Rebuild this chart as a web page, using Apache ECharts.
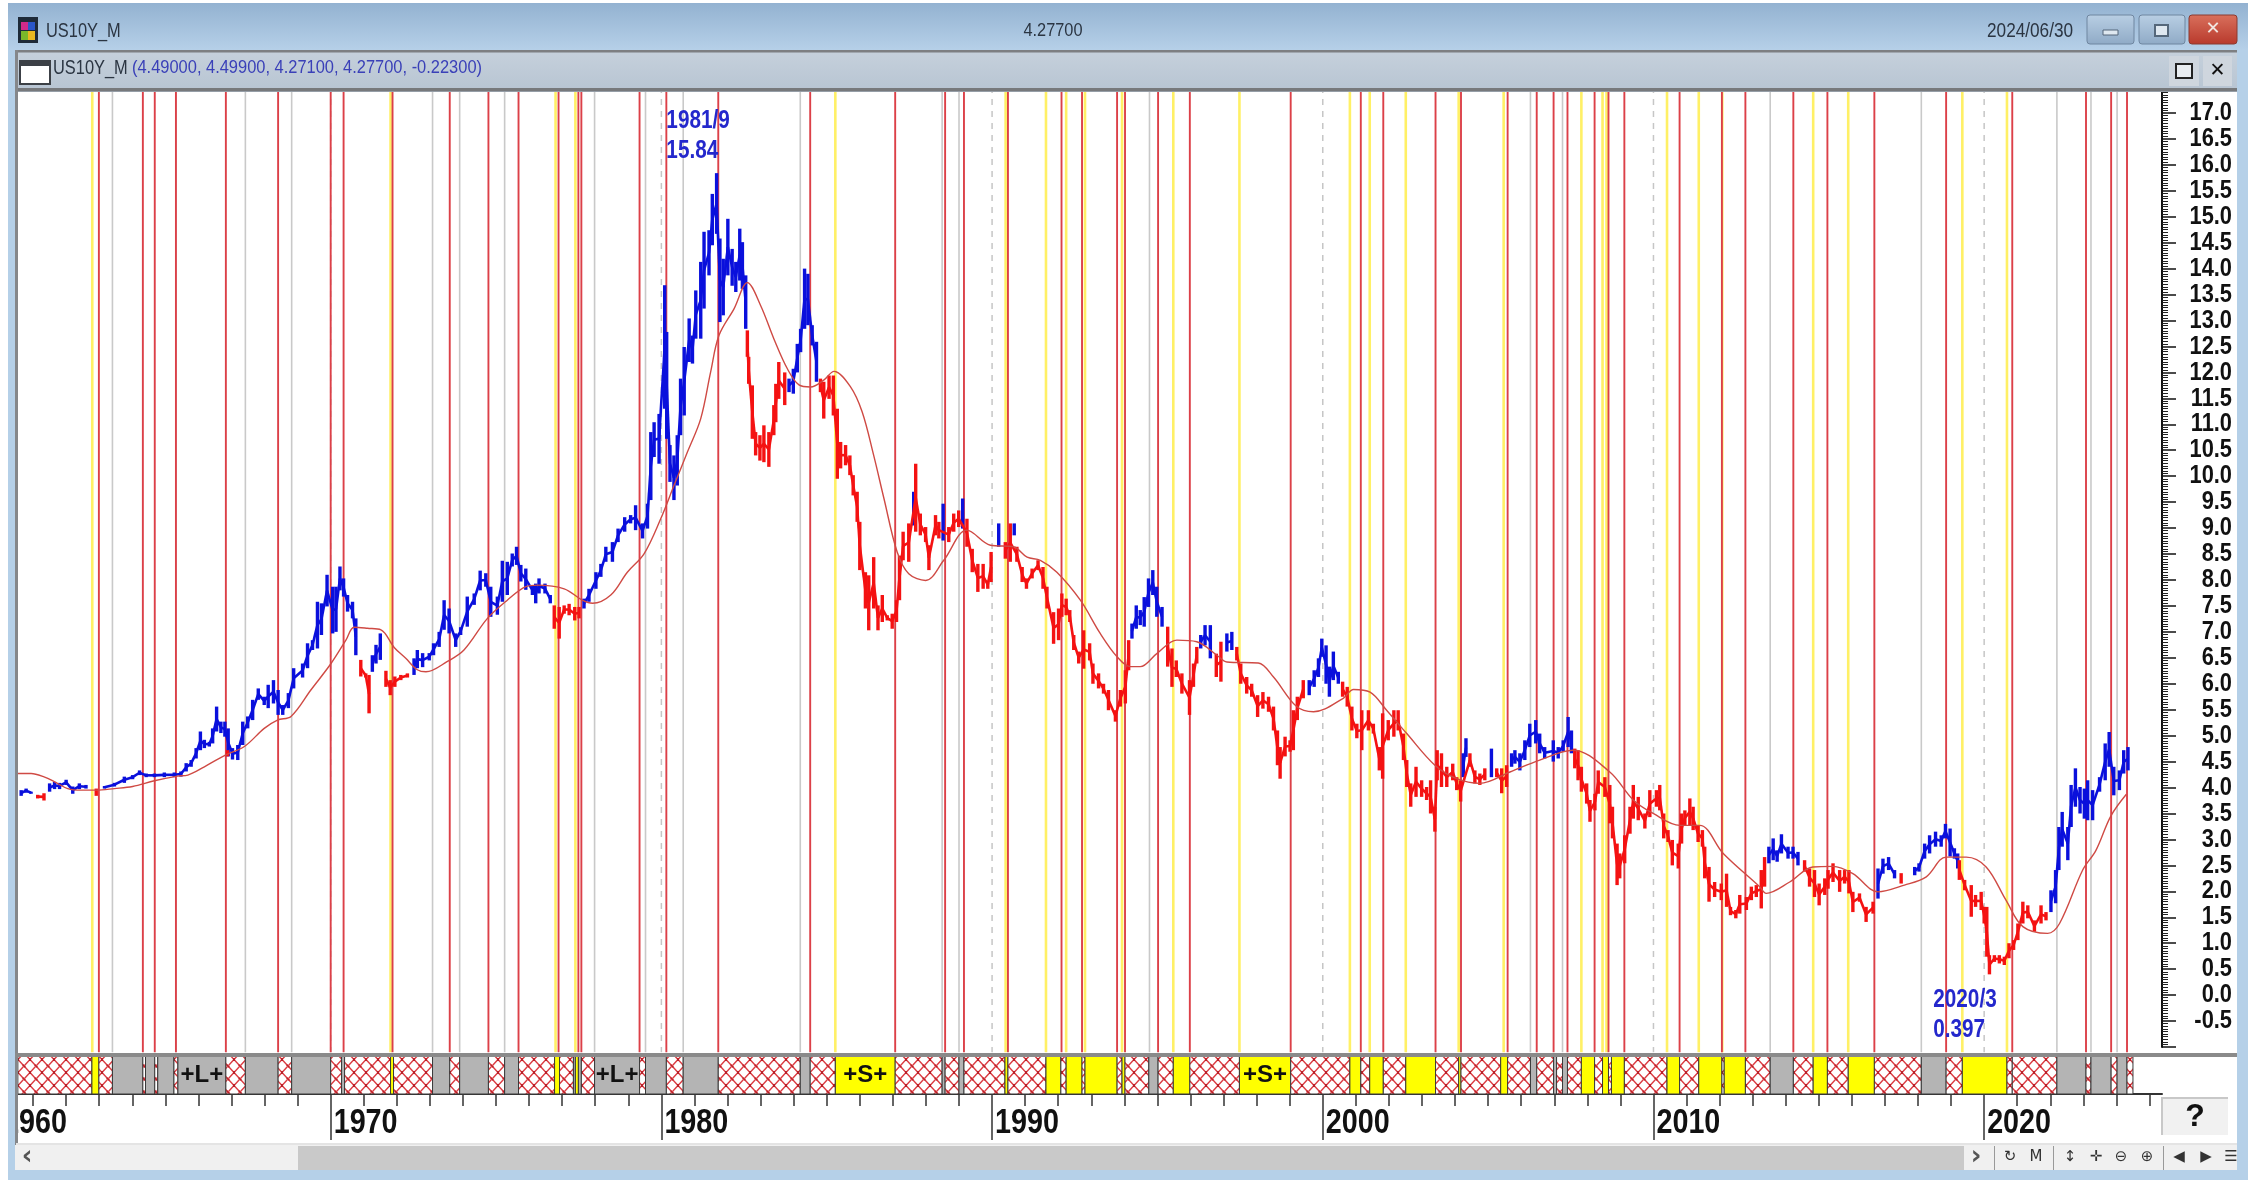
<!DOCTYPE html>
<html><head><meta charset="utf-8"><title>US10Y_M</title>
<style>html,body{margin:0;padding:0;background:#fff}#c{width:2255px;height:1180px}</style>
<script src="https://cdn.jsdelivr.net/npm/echarts@6/dist/echarts.min.js"></script></head>
<body><div id="c"></div>
<script>
// Yearly tick marks and labels
const yearTicks=[1961,1962,1963,1964,1965,1966,1967,1968,1969,1970,1971,1972,1973,1974,1975,1976,1977,1978,1979,1980,1981,1982,1983,1984,1985,1986,1987,1988,1989,1990,1991,1992,1993,1994,1995,1996,1997,1998,1999,2000,2001,2002,2003,2004,2005,2006,2007,2008,2009,2010,2011,2012,2013,2014,2015,2016,2017,2018,2019,2020,2021,2022,2023,2024,2025];
const decades=[1960,1970,1980,1990,2000,2010,2020];
const yLabels=[-0.5,0,0.5,1,1.5,2,2.5,3,3.5,4,4.5,5,5.5,6,6.5,7,7.5,8,8.5,9,9.5,10,10.5,11,11.5,12,12.5,13,13.5,14,14.5,15,15.5,16,16.5,17];
// Bars rising: [year, low, high]
const blueBars=[[1960.64,3.84,3.95],[1960.79,3.90,3.98],[1960.94,3.88,3.92],[1961.5,3.92,4.08],[1961.65,3.97,4.11],[1961.8,3.97,4.09],[1962.0,4.05,4.15],[1962.2,3.88,4.02],[1962.4,3.97,4.08],[1962.6,3.98,4.05],[1963.16,3.98,4.03],[1963.46,4.02,4.09],[1963.76,4.09,4.21],[1964.01,4.16,4.24],[1964.22,4.24,4.33],[1964.42,4.2,4.27],[1964.67,4.2,4.27],[1964.97,4.2,4.29],[1965.27,4.2,4.29],[1965.47,4.21,4.31],[1965.63,4.31,4.47],[1965.78,4.4,4.53],[1965.93,4.56,4.76],[1966.06,4.72,5.08],[1966.18,4.76,4.92],[1966.33,4.79,4.88],[1966.43,4.85,5.14],[1966.55,5.08,5.56],[1966.68,5.05,5.27],[1966.8,4.98,5.27],[1966.9,4.6,5.14],[1967.03,4.54,4.76],[1967.19,4.53,4.82],[1967.34,4.82,5.27],[1967.49,5.14,5.37],[1967.64,5.3,5.69],[1967.81,5.69,5.91],[1967.99,5.59,5.75],[1968.11,5.53,5.98],[1968.27,5.62,6.07],[1968.41,5.4,5.88],[1968.55,5.4,5.59],[1968.72,5.53,5.82],[1968.88,5.91,6.3],[1969.15,6.12,6.39],[1969.3,6.3,6.78],[1969.45,6.65,6.84],[1969.6,6.68,7.58],[1969.72,6.94,7.55],[1969.89,7.49,8.1],[1970.06,6.97,7.87],[1970.16,7.0,7.87],[1970.28,7.8,8.26],[1970.39,7.68,8.03],[1970.51,7.39,7.71],[1970.66,7.26,7.58],[1970.76,6.55,7.26],[1971.26,6.23,6.55],[1971.37,6.39,6.75],[1971.5,6.46,6.97],[1972.52,6.17,6.49],[1972.62,6.3,6.65],[1972.78,6.32,6.59],[1972.98,6.45,6.59],[1973.11,6.55,6.78],[1973.28,6.71,7.0],[1973.43,7.04,7.61],[1973.58,6.97,7.45],[1973.78,6.71,6.97],[1973.93,6.94,7.09],[1974.13,7.1,7.68],[1974.34,7.52,7.74],[1974.52,7.8,8.18],[1974.69,7.87,8.13],[1974.84,7.29,7.87],[1975.04,7.33,7.68],[1975.19,7.58,8.37],[1975.34,7.71,8.35],[1975.49,8.26,8.51],[1975.62,8.29,8.64],[1975.75,7.97,8.29],[1975.9,7.81,8.22],[1976.1,7.71,7.9],[1976.2,7.55,7.93],[1976.3,7.74,8.03],[1976.48,7.74,7.93],[1976.64,7.55,7.71],[1977.66,7.45,7.64],[1977.81,7.58,7.83],[1978.02,7.83,8.15],[1978.17,8.06,8.31],[1978.32,8.35,8.64],[1978.52,8.35,8.73],[1978.69,8.73,8.99],[1978.89,8.93,9.21],[1979.07,9.09,9.25],[1979.22,8.96,9.44],[1979.43,8.8,9.09],[1979.58,8.99,9.47],[1979.68,9.54,10.85],[1979.78,10.37,11.04],[1979.93,10.24,11.2],[1980.1,11.3,13.68],[1980.16,10.72,12.78],[1980.26,9.89,10.6],[1980.38,9.54,10.4],[1980.48,9.82,10.79],[1980.58,10.79,11.88],[1980.69,11.17,12.49],[1980.84,12.2,13.04],[1980.94,12.17,12.71],[1981.04,12.65,13.58],[1981.19,12.65,14.13],[1981.29,13.23,14.71],[1981.44,13.87,14.74],[1981.54,14.45,15.44],[1981.67,14.67,15.84],[1981.77,12.97,14.58],[1981.87,13.1,14.19],[1982.01,13.87,14.96],[1982.14,13.67,14.38],[1982.25,13.55,14.13],[1982.37,13.77,14.77],[1982.45,13.61,14.51],[1982.55,12.84,13.87],[1983.86,11.62,11.88],[1983.99,11.59,12.07],[1984.11,12.0,12.55],[1984.21,12.39,12.84],[1984.33,12.84,14.0],[1984.43,12.91,13.9],[1984.56,12.52,12.91],[1984.69,11.82,12.59],[1987.63,9.05,9.7],[1988.52,8.76,9.47],[1989.11,8.99,9.57],[1990.2,8.64,9.09],[1990.67,8.86,9.09],[1994.23,6.87,7.16],[1994.36,7.06,7.51],[1994.48,7.13,7.42],[1994.6,7.1,7.67],[1994.73,7.48,8.03],[1994.86,7.71,8.19],[1994.98,7.29,7.87],[1995.14,7.1,7.48],[1996.31,6.68,6.94],[1996.44,6.74,7.13],[1996.6,6.49,7.13],[1997.1,6.62,6.97],[1997.25,6.65,7.0],[1999.59,5.78,6.07],[1999.74,5.94,6.26],[1999.87,6.13,6.49],[1999.97,6.52,6.87],[2000.1,6.0,6.74],[2000.2,5.75,6.33],[2000.32,6.07,6.62],[2000.47,6.0,6.23],[2004.25,4.2,4.66],[2004.33,4.59,4.95],[2005.1,4.2,4.75],[2005.71,4.4,4.66],[2005.81,4.46,4.72],[2005.96,4.33,4.66],[2006.11,4.53,4.91],[2006.26,4.78,5.23],[2006.44,4.85,5.3],[2006.56,4.66,5.04],[2006.71,4.56,4.78],[2006.97,4.5,4.91],[2007.12,4.56,4.78],[2007.27,4.69,4.91],[2007.42,4.78,5.36],[2007.52,4.66,5.1],[2013.49,2.54,2.86],[2013.62,2.6,3.02],[2013.74,2.57,2.79],[2013.87,2.73,3.1],[2014.07,2.63,2.86],[2014.22,2.63,2.86],[2014.37,2.5,2.76],[2016.79,1.86,2.44],[2016.94,2.34,2.63],[2017.11,2.41,2.66],[2017.29,2.25,2.41],[2017.9,2.31,2.47],[2018.03,2.38,2.54],[2018.2,2.63,2.92],[2018.35,2.73,3.08],[2018.53,2.86,3.15],[2018.7,2.86,3.08],[2018.83,3.02,3.3],[2018.97,2.67,3.21],[2019.1,2.63,2.83],[2019.2,2.44,2.73],[2022.02,1.6,2.02],[2022.16,1.77,2.41],[2022.26,2.41,3.24],[2022.36,2.86,3.53],[2022.53,2.6,3.24],[2022.63,3.24,4.05],[2022.76,3.63,4.37],[2022.9,3.5,4.01],[2023.03,3.4,3.98],[2023.13,3.37,4.14],[2023.28,3.37,3.95],[2023.49,3.92,4.2],[2023.66,4.14,4.85],[2023.78,4.4,5.07],[2023.92,3.85,4.4],[2024.09,3.95,4.33],[2024.22,4.27,4.72],[2024.35,4.33,4.78]];
// Bars falling: [year, low, high]
const redBars=[[1961.14,3.79,3.86],[1961.33,3.75,3.89],[1962.91,3.84,3.98],[1966.88,4.6,4.72],[1970.91,6.14,6.46],[1971.06,6.12,6.2],[1971.16,5.43,6.17],[1971.67,5.94,6.25],[1971.8,5.78,6.07],[1971.94,5.94,6.14],[1972.12,6.07,6.17],[1972.32,6.12,6.2],[1976.76,7.06,7.51],[1976.91,6.87,7.48],[1977.06,7.35,7.51],[1977.21,7.32,7.54],[1977.38,7.22,7.48],[1977.51,7.26,7.48],[1982.6,12.3,12.81],[1982.64,11.78,12.3],[1982.75,10.72,11.75],[1982.85,10.4,10.85],[1982.98,10.3,10.79],[1983.1,10.27,10.98],[1983.25,10.18,10.85],[1983.4,10.79,11.37],[1983.46,11.04,11.78],[1983.55,11.49,12.2],[1983.73,11.37,12.0],[1984.81,11.62,11.88],[1984.91,11.11,11.82],[1985.07,11.49,11.94],[1985.2,11.17,11.94],[1985.32,9.95,11.3],[1985.42,10.15,10.66],[1985.57,10.21,10.6],[1985.7,10.02,10.4],[1985.8,9.63,10.02],[1985.92,9.12,9.7],[1986.0,8.19,9.12],[1986.17,7.45,8.15],[1986.27,7.03,8.09],[1986.42,7.45,8.44],[1986.55,7.03,7.51],[1986.68,7.19,7.71],[1986.83,7.22,7.32],[1986.98,7.06,7.35],[1987.11,7.19,7.61],[1987.2,7.61,8.47],[1987.31,8.38,8.93],[1987.48,8.35,9.09],[1987.69,8.93,10.24],[1987.83,8.86,9.28],[1987.99,8.73,9.02],[1988.09,8.19,8.67],[1988.29,8.86,9.25],[1988.39,8.8,9.12],[1988.69,8.73,9.02],[1988.84,8.93,9.28],[1988.99,9.02,9.34],[1989.24,8.64,9.18],[1989.4,8.15,8.6],[1989.57,7.77,8.31],[1989.73,7.83,8.31],[1989.87,7.83,7.99],[1989.97,7.96,8.54],[1990.4,8.41,8.73],[1990.55,8.35,9.09],[1990.75,8.35,8.64],[1990.91,7.96,8.25],[1991.04,7.83,8.03],[1991.21,8.03,8.22],[1991.39,8.19,8.38],[1991.54,7.83,8.25],[1991.66,7.45,7.87],[1991.86,6.77,7.38],[1992.01,6.84,7.45],[1992.11,7.29,7.74],[1992.24,7.32,7.64],[1992.35,7.19,7.42],[1992.47,6.65,6.94],[1992.62,6.39,6.62],[1992.77,6.29,7.03],[1992.95,6.45,6.78],[1993.05,6.0,6.39],[1993.22,5.91,6.2],[1993.37,5.81,6.0],[1993.52,5.49,5.88],[1993.73,5.27,5.49],[1993.88,5.56,5.88],[1994.03,5.62,6.26],[1994.13,6.26,6.84],[1995.31,6.33,7.1],[1995.44,5.94,6.68],[1995.57,6.13,6.45],[1995.74,5.81,6.2],[1995.97,5.4,6.07],[1996.09,5.94,6.39],[1996.19,6.39,6.71],[1996.78,6.13,6.58],[1996.92,6.04,6.81],[1997.4,6.45,6.71],[1997.52,6.0,6.39],[1997.7,5.81,6.13],[1997.85,5.75,6.0],[1998.03,5.36,5.78],[1998.19,5.52,5.84],[1998.36,5.46,5.75],[1998.51,5.1,5.56],[1998.63,4.43,5.1],[1998.71,4.17,4.78],[1998.86,4.6,4.98],[1999.01,4.69,4.91],[1999.11,4.72,5.49],[1999.23,5.3,5.75],[1999.41,5.72,6.07],[2000.6,5.75,6.04],[2000.74,5.56,5.94],[2000.88,5.1,5.56],[2001.03,4.95,5.23],[2001.18,4.72,5.49],[2001.38,5.1,5.49],[2001.53,5.04,5.23],[2001.71,4.33,4.78],[2001.81,4.17,5.43],[2001.98,4.91,5.3],[2002.15,4.98,5.49],[2002.28,5.1,5.49],[2002.44,4.53,5.04],[2002.54,4.01,4.53],[2002.66,3.63,4.08],[2002.82,3.82,4.4],[2002.99,3.82,4.14],[2003.14,3.76,4.01],[2003.26,3.5,4.14],[2003.39,3.15,3.63],[2003.46,4.14,4.72],[2003.59,4.01,4.66],[2003.75,4.01,4.4],[2003.93,4.14,4.46],[2004.05,3.95,4.2],[2004.17,3.73,4.14],[2004.45,4.4,4.66],[2004.6,4.08,4.33],[2004.75,4.05,4.27],[2004.9,4.14,4.37],[2005.26,4.2,4.37],[2005.41,3.89,4.37],[2005.56,4.01,4.43],[2007.62,4.37,4.75],[2007.72,4.14,4.72],[2007.82,3.92,4.4],[2007.98,3.69,4.08],[2008.08,3.34,3.76],[2008.23,3.56,3.88],[2008.33,3.88,4.33],[2008.53,3.82,4.2],[2008.68,3.31,4.05],[2008.76,3.02,3.63],[2008.9,2.12,2.92],[2008.98,2.25,2.73],[2009.13,2.54,3.08],[2009.29,3.11,3.63],[2009.39,3.4,4.05],[2009.54,3.37,3.82],[2009.74,3.21,3.5],[2009.89,3.43,3.95],[2010.09,3.63,3.95],[2010.19,3.56,4.05],[2010.31,3.02,3.5],[2010.44,2.95,3.18],[2010.57,2.5,2.99],[2010.75,2.44,2.92],[2010.85,2.92,3.5],[2010.95,3.27,3.56],[2011.1,3.27,3.79],[2011.2,3.18,3.63],[2011.35,2.95,3.27],[2011.48,2.86,3.18],[2011.55,2.25,2.86],[2011.68,1.8,2.47],[2011.85,1.89,2.18],[2012.05,1.83,2.15],[2012.21,1.7,2.34],[2012.33,1.54,1.7],[2012.49,1.48,1.64],[2012.61,1.57,1.93],[2012.81,1.64,1.89],[2012.96,1.83,2.09],[2013.11,1.89,2.12],[2013.26,1.67,2.41],[2013.36,2.09,2.66],[2014.57,2.38,2.6],[2014.72,2.09,2.44],[2014.87,1.89,2.41],[2015.01,1.73,2.15],[2015.18,1.93,2.25],[2015.28,2.05,2.41],[2015.43,2.18,2.54],[2015.63,1.99,2.41],[2015.78,2.15,2.41],[2015.91,1.96,2.41],[2016.03,1.6,1.99],[2016.23,1.8,1.96],[2016.43,1.41,1.7],[2016.64,1.57,1.8],[2017.49,2.15,2.35],[2019.25,2.22,2.6],[2019.41,2.02,2.22],[2019.61,1.51,2.12],[2019.74,1.7,1.93],[2019.91,1.64,1.99],[2020.0,1.38,1.7],[2020.08,0.74,1.7],[2020.16,0.4,0.77],[2020.31,0.64,0.77],[2020.46,0.61,0.77],[2020.61,0.58,0.74],[2020.75,0.71,1.0],[2020.89,0.87,1.06],[2021.02,1.06,1.38],[2021.17,1.38,1.8],[2021.32,1.48,1.73],[2021.52,1.22,1.44],[2021.72,1.38,1.73],[2021.87,1.44,1.6]];
// Moving average: years and values
const maYears=[1960.54,1960.94,1961.35,1961.65,1962.05,1962.45,1962.91,1963.46,1964.01,1964.67,1965.37,1965.68,1966.18,1966.83,1967.39,1967.99,1968.39,1968.8,1969.4,1970.01,1970.46,1970.71,1971.11,1971.52,1971.92,1972.27,1972.62,1972.88,1973.53,1974.03,1974.74,1975.34,1975.9,1976.25,1977.06,1977.61,1977.92,1978.47,1978.97,1979.48,1979.98,1980.38,1980.79,1981.19,1981.49,1981.74,1982.2,1982.6,1983.0,1983.4,1983.81,1984.16,1984.51,1984.91,1985.22,1985.72,1986.07,1986.42,1986.73,1987.13,1987.48,1987.99,1988.54,1989.24,1989.95,1990.65,1991.06,1991.46,1991.96,1992.67,1993.27,1993.78,1994.18,1994.48,1994.98,1995.59,1996.19,1996.8,1997.1,1998.05,1998.51,1999.21,1999.72,2000.62,2000.93,2001.43,2001.93,2002.54,2003.39,2004.05,2004.75,2005.66,2006.56,2007.57,2008.68,2009.39,2009.99,2010.8,2011.4,2012.11,2013.21,2013.41,2014.12,2014.82,2015.43,2016.03,2016.79,2017.59,2018.25,2018.85,2019.46,2020.06,2020.66,2021.17,2021.92,2022.28,2022.98,2023.38,2023.83,2024.3];
const maValues=[4.27,4.27,4.2,4.11,3.98,3.95,3.95,3.98,4.02,4.13,4.22,4.24,4.4,4.63,4.79,5.14,5.3,5.37,5.88,6.39,6.84,7.09,7.07,7.04,6.7,6.49,6.27,6.23,6.43,6.65,7.26,7.61,7.87,7.9,7.83,7.61,7.55,7.71,8.15,8.51,9.18,9.82,10.47,11.11,12.01,12.71,13.23,13.73,13.29,12.65,12.07,11.76,11.72,11.85,12.02,11.72,11.24,10.4,9.57,8.54,8.12,7.99,8.38,8.96,8.67,8.64,8.44,8.38,8.15,7.61,6.97,6.52,6.33,6.33,6.58,6.84,6.81,6.55,6.42,6.4,6.13,5.56,5.46,5.72,5.89,5.84,5.49,5.04,4.43,4.17,4.08,4.3,4.53,4.72,4.3,3.76,3.5,3.27,3.27,2.73,2.09,1.96,2.18,2.47,2.48,2.34,1.99,2.12,2.28,2.66,2.66,2.47,1.83,1.32,1.19,1.38,2.41,2.79,3.45,3.87];
// Event lines (years)
const redLines=[1962.99,1964.32,1964.68,1965.32,1966.83,1968.41,1970.0,1970.39,1971.87,1973.6,1974.77,1975.68,1976.89,1977.49,1977.58,1979.34,1980.15,1981.72,1984.5,1987.07,1988.58,1989.15,1990.48,1992.1,1992.72,1993.78,1994.02,1995.02,1995.98,1999.03,2001.15,2001.83,2003.41,2004.18,2005.59,2006.47,2006.98,2007.4,2008.22,2008.64,2009.12,2010.79,2012.07,2012.78,2014.23,2015.26,2016.68,2018.85,2020.85,2023.08,2023.84,2024.32];
const yellowLines=[1962.79,1971.81,1976.8,1977.4,1985.26,1990.41,1991.63,1992.24,1992.81,1993.93,1995.48,1997.48,2000.82,2001.42,2002.51,2004.11,2005.47,2007.82,2008.46,2008.58,2010.41,2011.37,2012.08,2014.83,2015.89,2019.34,2020.69];
const grayLines=[1963.4,1965.32,1967.42,1968.82,1973.08,1973.9,1975.26,1977.98,1979.52,1980.66,1984.2,1988.49,1989.0,1994.76,2006.28,2007.25,2013.53,2018.1,2022.2,2023.23,2024.02];
const dashedLines=[1970,1980,1990,2000,2010,2020];
// Signal strip: [start year, state]; H hatched, G grey, Y yellow, L grey +L+, S yellow +S+
const stripRuns=[[1960.54,'H'],[1962.78,'Y'],[1962.99,'H'],[1963.4,'G'],[1964.32,'H'],[1964.4,'G'],[1964.68,'H'],[1964.77,'G'],[1965.26,'H'],[1965.38,'L'],[1966.83,'H'],[1967.42,'G'],[1968.41,'H'],[1968.82,'G'],[1970.0,'H'],[1970.33,'G'],[1970.42,'H'],[1971.81,'Y'],[1971.9,'H'],[1973.08,'G'],[1973.6,'H'],[1973.9,'G'],[1974.77,'H'],[1975.26,'G'],[1975.68,'H'],[1976.77,'Y'],[1976.92,'H'],[1977.34,'G'],[1977.4,'Y'],[1977.49,'G'],[1977.58,'H'],[1977.98,'L'],[1979.34,'H'],[1979.52,'G'],[1980.15,'H'],[1980.66,'G'],[1981.72,'H'],[1984.2,'G'],[1984.5,'H'],[1985.26,'S'],[1987.07,'H'],[1988.49,'G'],[1988.58,'H'],[1989.0,'G'],[1989.15,'H'],[1990.39,'Y'],[1990.48,'H'],[1991.63,'Y'],[1992.08,'H'],[1992.24,'Y'],[1992.72,'H'],[1992.81,'Y'],[1993.78,'H'],[1993.93,'Y'],[1994.02,'H'],[1994.74,'G'],[1995.02,'H'],[1995.48,'Y'],[1995.98,'H'],[1997.48,'S'],[1999.03,'H'],[2000.82,'Y'],[2001.15,'H'],[2001.42,'Y'],[2001.83,'H'],[2002.51,'Y'],[2003.41,'H'],[2004.11,'Y'],[2004.18,'H'],[2005.38,'Y'],[2005.59,'H'],[2006.28,'G'],[2006.47,'H'],[2006.98,'G'],[2007.07,'H'],[2007.25,'G'],[2007.4,'H'],[2007.82,'Y'],[2008.22,'H'],[2008.46,'Y'],[2008.64,'H'],[2008.73,'Y'],[2009.12,'H'],[2010.41,'Y'],[2010.79,'H'],[2011.37,'Y'],[2012.07,'H'],[2012.14,'Y'],[2012.78,'H'],[2013.53,'G'],[2014.23,'H'],[2014.83,'Y'],[2015.26,'H'],[2015.89,'Y'],[2016.68,'H'],[2018.1,'G'],[2018.85,'H'],[2019.34,'Y'],[2020.69,'H'],[2020.85,'H'],[2022.2,'G'],[2023.08,'H'],[2023.23,'G'],[2023.84,'H'],[2024.02,'G'],[2024.32,'H'],[2024.5,null]];
// Annotations
const noteYears=[1980.15,1980.15,2018.46,2018.46];
const noteValues=[16.84,16.26,-0.1,-0.67];
const noteTexts=['1981/9','15.84','2020/3','0.397'];

const SANS='"Liberation Sans",Arial,sans-serif';
const hatch=document.createElement('canvas');hatch.width=12;hatch.height=13;
(function(){const g=hatch.getContext('2d');g.fillStyle='#fff';g.fillRect(0,0,12,13);g.strokeStyle='#dc3c42';g.lineWidth=1.5;
g.beginPath();g.moveTo(0,0);g.lineTo(12,13);g.moveTo(12,0);g.lineTo(0,13);g.stroke();g.fillStyle='#b82028';g.fillRect(5,5,2,3);g.fillRect(0,0,1.5,1.5);g.fillRect(10.5,11.5,1.5,1.5);})();

const fills={H:{image:hatch,repeat:'repeat'},G:'#b4b4b4',Y:'#ffff00',L:'#b4b4b4',S:'#ffff00'};

function vlines(list,color,width,dash,z){return {type:'custom',coordinateSystem:'cartesian2d',xAxisIndex:0,yAxisIndex:0,silent:true,z:z,clip:false,
 data:list.map(v=>[v]),encode:{x:0},
 renderItem:function(p,api){const a=api.coord([api.value(0),17.5]),b=api.coord([api.value(0),-1.1]);
  return {type:'line',shape:{x1:a[0],y1:a[1],x2:b[0],y2:b[1]},style:{stroke:color,lineWidth:width,lineDash:dash||null}};}};}
function bars(list,color,z){return {type:'custom',xAxisIndex:0,yAxisIndex:0,silent:true,z:z,data:list,encode:{x:0,y:[1,2]},
 renderItem:function(p,api){const yr=api.value(0),lo=api.value(1),hi=api.value(2);const a=api.coord([yr,lo]),b=api.coord([yr,hi]);
  const kids=[{type:'line',shape:{x1:a[0],y1:a[1],x2:b[0],y2:b[1]},style:{stroke:color,lineWidth:3.4}}];
  const n=list[p.dataIndex+1];
  if(n&&n[0]-yr<0.32){const c=api.coord([yr,(lo+hi)/2]),d=api.coord([n[0],(n[1]+n[2])/2]);
   kids.push({type:'line',shape:{x1:c[0],y1:c[1],x2:d[0],y2:d[1]},style:{stroke:color,lineWidth:2.6}});}
  return {type:'group',children:kids};}};}

const G=[];
function rect(x,y,w,h,fill,stroke,lw,r){G.push({type:'rect',z:100,silent:true,shape:{x:x,y:y,width:w,height:h,r:r||0},style:{fill:fill||'none',stroke:stroke||null,lineWidth:lw||1}});}
function txt(x,y,s,font,fill,align,sx){G.push({type:'text',z:101,silent:true,x:x,y:y,scaleX:sx||1,style:{text:s,font:font,fill:fill,textAlign:align||'left',textVerticalAlign:'middle'}});}
const vgrad=(a,b)=>({type:'linear',x:0,y:0,x2:0,y2:1,colorStops:[{offset:0,color:a},{offset:1,color:b}]});
// outer frame
rect(0,0,8,1180,'#fff');rect(2248,0,7,1180,'#fff');rect(0,0,2255,3,'#fff');
rect(8,3,2240,47,vgrad('#93b2d1','#b6d0e8'));
rect(8,50,8,1125,'#b5d0e8');rect(2237,50,11,1125,'#b5d0e8');
rect(8,1170,2240,10,'#b5d0e8');
// child caption
rect(15,50,2222,42,vgrad('#c6d1dc','#b7c4d2'));
rect(15,50,2222,2.5,'#7d7f82');rect(15,88,2222,3.5,'#77797c');
rect(15,50,3,1095,'#85878a');
// title texts
txt(46,31,'US10Y_M','20px '+SANS,'#2b3542','left',0.82);
txt(1053,31,'4.27700','19px '+SANS,'#2b3542','center',0.86);
txt(1987,31,'2024/06/30','20px '+SANS,'#2b3542','left',0.86);
rect(18,17,20,26,'#1e2a38');rect(21,22,14,8,'#d02a8a');rect(21,31,14,9,'#7ab82a');rect(28,22,7,8,'#2a56c8');rect(28,31,7,9,'#e8b820');
rect(2087,15,47,29,vgrad('#b9cfe4','#8faac6'),'#6f86a0',1,3);rect(2103,30,15,5,'#dfe8f0','#55677a');
rect(2139,15,46,29,vgrad('#b9cfe4','#8faac6'),'#6f86a0',1,3);rect(2155,25,13,11,'#dfe8f0','#55677a',2);
rect(2189,15,48,29,vgrad('#d9705c','#b8392c'),'#8a3a30',1,3);txt(2213,29,'✕','bold 18px "DejaVu Sans"','#f0e6e0','center');
// child caption content
rect(20,61,30,23,'#fff','#3c4046',2);rect(20,61,30,5,'#3c4046');
txt(53,68,'US10Y_M','20px '+SANS,'#2b3542','left',0.82);
txt(132,68,'(4.49000, 4.49900, 4.27100, 4.27700, -0.22300)','19px '+SANS,'#3a40b8','left',0.865);
rect(2169,56,30,30,'#cfd6de');rect(2176,64,16,14,'#e8ecf0','#222',2);
rect(2203,56,29,30,'#cfd6de');txt(2217.5,71,'✕','bold 19px "DejaVu Sans"','#111','center');
// strip band
rect(15,1053,2222,4,'#8a8a8a');
// scroll bar
rect(15,1145,2222,25,'#f0f0f0');rect(16,1143,2221,2,'#e4e4e4');
rect(298,1146,1666,24,'#c9c9c9');
txt(27,1157,'‹','bold 26px "DejaVu Sans"','#555','center');
txt(1976,1157,'›','bold 26px "DejaVu Sans"','#555','center');
rect(1994,1146,1,24,'#999');rect(2053,1146,1,24,'#999');rect(2163,1146,1,24,'#999');
[[2010,'↻'],[2036,'M'],[2070,'↕'],[2096,'✛'],[2121,'⊖'],[2147,'⊕'],[2179,'◀'],[2206,'▶'],[2231,'☰']].forEach(a=>txt(a[0],1157,a[1],'15px "DejaVu Sans"','#333','center'));
// question button
rect(2161,1097,67,38,'#f1f1f1');rect(2161,1097,67,2,'#c8c8c8');rect(2161,1097,2,38,'#c8c8c8');
txt(2195,1117,'?','bold 32px "Liberation Sans"','#111','center');

const stripData=stripRuns.slice(0,-1).map((r,i)=>[r[0],stripRuns[i+1][0]]);
const XMAX=2025.378;
const chart=echarts.init(document.getElementById('c'),null,{renderer:'canvas'});
chart.setOption({animation:false,backgroundColor:'#fff',
 graphic:{elements:G},
 grid:[{left:-2,width:2164,top:87,height:960},{left:-2,width:2164,top:1056,height:38}],
 xAxis:[
  {type:'value',gridIndex:0,min:1960,max:XMAX,show:false},
  {type:'value',gridIndex:1,min:1960,max:XMAX,position:'bottom',axisLine:{show:true,onZero:false,lineStyle:{color:'#333',width:2}},axisTick:{show:true,length:12,customValues:yearTicks,lineStyle:{color:'#333',width:1.5}},axisLabel:{show:false},splitLine:{show:false}},
  {type:'value',gridIndex:1,min:1960,max:XMAX,position:'bottom',axisLine:{show:false,onZero:false},axisTick:{show:true,length:46,customValues:decades,lineStyle:{color:'#333',width:1.5}},splitLine:{show:false},axisLabel:{show:false}}
 ],
 yAxis:[
  {type:'value',gridIndex:0,min:-1,max:17.5,interval:0.5,position:'right',
   axisLine:{show:true,onZero:false,lineStyle:{color:'#111',width:2}},
   axisTick:{show:true,length:14,lineStyle:{color:'#111',width:1.5}},
   minorTick:{show:true,splitNumber:10,length:6,lineStyle:{color:'#222',width:1}},
   splitLine:{show:false},minorSplitLine:{show:false},axisLabel:{show:false}},
  {type:'value',gridIndex:1,min:0,max:1,show:false}
 ],
 series:[
  vlines(grayLines,'#c9c9c9',1.6,null,1),
  vlines(dashedLines,'#c6c6c6',1.5,[6,6],1),
  vlines(yellowLines,'#fff066',2.6,null,2),
  vlines(redLines,'#dc4048',1.9,null,3),
  bars(blueBars,'#0a10dc',5),
  bars(redBars,'#f41212',6),
  {type:'line',xAxisIndex:0,yAxisIndex:0,silent:true,z:7,showSymbol:false,smooth:0.35,data:maYears.map((y,i)=>[y,maValues[i]]),lineStyle:{color:'#cf4a44',width:1.4}},
  {type:'custom',xAxisIndex:0,yAxisIndex:0,silent:true,z:8,clip:false,data:noteYears.map((y,i)=>[y,noteValues[i]]),
   renderItem:function(p,api){const c=api.coord([api.value(0),api.value(1)]);
    return {type:'text',x:c[0],y:c[1],scaleX:0.83,style:{text:noteTexts[p.dataIndex],font:'bold 25px '+SANS,fill:'#2428cc',textAlign:'left',textVerticalAlign:'middle'}};}},
  {type:'custom',xAxisIndex:0,yAxisIndex:0,silent:true,z:9,clip:false,data:yLabels.map(v=>[XMAX,v]),
   renderItem:function(p,api){const c=api.coord([api.value(0),api.value(1)]);
    return {type:'text',x:c[0]+70,y:c[1],scaleX:0.84,style:{text:api.value(1).toFixed(1),font:'bold 26px '+SANS,fill:'#111',textAlign:'right',textVerticalAlign:'middle'}};}},
  {type:'custom',xAxisIndex:1,yAxisIndex:1,silent:true,z:9,clip:false,data:decades.map(d=>[d,0]),
   renderItem:function(p,api){const c=api.coord([api.value(0),api.value(1)]);
    return {type:'text',x:c[0]+3,y:c[1]+29,scaleX:0.82,style:{text:String(api.value(0)),font:'bold 35px '+SANS,fill:'#111',textAlign:'left',textVerticalAlign:'middle'}};}},
  {type:'custom',xAxisIndex:1,yAxisIndex:1,silent:true,z:4,data:stripData,
   renderItem:function(p,api){const a=api.coord([api.value(0),1]),b=api.coord([api.value(1),0]);const st=stripRuns[p.dataIndex][1];
    const kids=[{type:'rect',shape:{x:a[0],y:a[1],width:b[0]-a[0],height:b[1]-a[1]},style:{fill:fills[st],stroke:'#3a3a3a',lineWidth:1}}];
    if(st==='L'||st==='S')kids.push({type:'text',x:(a[0]+b[0])/2,y:(a[1]+b[1])/2,style:{text:'+'+st+'+',font:'bold 24px '+SANS,fill:'#111',textAlign:'center',textVerticalAlign:'middle'}});
    return {type:'group',children:kids};}}
 ]});
</script></body></html>
